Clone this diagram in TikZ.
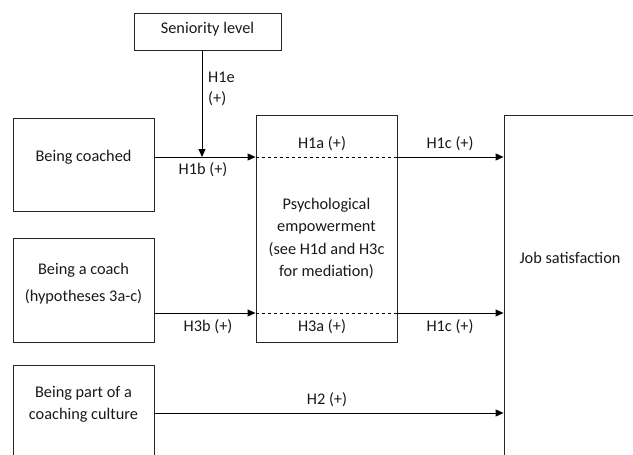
\documentclass[tikz,border=0pt]{standalone}
\usepackage{fontspec}
\setmainfont{Carlito}
\usetikzlibrary{arrows.meta}
\begin{document}
\begin{tikzpicture}[x=1pt,y=-1pt,
  box/.style={draw=black!85,line width=0.9pt,inner sep=0pt},
  txt/.style={font=\fontsize{16.3}{22.3}\selectfont,align=center,inner sep=0pt,text=black!90},
  lbl/.style={font=\fontsize{16.3}{21}\selectfont,inner sep=0pt,text=black!90},
  arr/.style={line width=0.9pt,-{Triangle[length=8pt,width=7pt]}},
  ln/.style={line width=0.9pt},
  dsh/.style={line width=0.9pt,dash pattern=on 3.5pt off 2.5pt}]
\useasboundingbox (0,0) rectangle (633,455);
\begin{scope}
\clip (0,0) rectangle (633,455);
% boxes
\node[box,minimum width=147pt,minimum height=37pt] (sen) at (207.5,31.5) {};
\node[box,minimum width=141pt,minimum height=93pt] (bc) at (83.5,164.5) {};
\node[box,minimum width=141pt,minimum height=104pt] (bac) at (83.5,290) {};
\node[box,minimum width=141pt,minimum height=110pt] (bpc) at (83.5,420) {};
\node[box,minimum width=141pt,minimum height=227pt] (pe) at (326.5,228.5) {};
\node[box,minimum width=160pt,minimum height=360pt] (js) at (584,295) {};
\end{scope}
% texts
\node[txt] (tsen) at (207.5,29.5) {Seniority level};
\node[txt] (tbc) at (83.5,157) {Being coached};
\node[txt,font=\fontsize{16.3}{26.7}\selectfont] (tbac) at (83.5,283.5) {Being a coach\\(hypotheses 3a-c)};
\node[txt] (tbpc) at (83.5,404.5) {Being part of a\\coaching culture};
\node[txt] (tpe) at (326.5,238.5) {Psychological\\empowerment\\(see H1d and H3c\\for mediation)};
\node[txt] (tjs) at (570,258) {Job satisfaction};
% coordinates
\coordinate (r1) at (0,157);
\coordinate (r2) at (0,313);
\coordinate (r3) at (0,413);
\coordinate (hv) at (202,157);
% connectors
\draw[arr] (sen.south -| hv) -- (hv);
\draw[arr] (bc.east |- r1) -- (pe.west |- r1);
\draw[dsh] (pe.west |- r1) -- (pe.east |- r1);
\draw[arr] (pe.east |- r1) -- (js.west |- r1);
\draw[arr] (bac.east |- r2) -- (pe.west |- r2);
\draw[dsh] (pe.west |- r2) -- (pe.east |- r2);
\draw[arr] (pe.east |- r2) -- (js.west |- r2);
\draw[arr] (bpc.east |- r3) -- (js.west |- r3);
% labels
\node[lbl,anchor=west,align=left] (lh1e) at (208,88.5) {H1e\\(+)};
\node[lbl] (lh1b) at (203,170) {H1b (+)};
\node[lbl] (lh1a) at (322,143.5) {H1a (+)};
\node[lbl] (lh1c) at (450,143.5) {H1c (+)};
\node[lbl] (lh3b) at (208,327) {H3b (+)};
\node[lbl] (lh3a) at (322,327) {H3a (+)};
\node[lbl] (lh1c2) at (450,327) {H1c (+)};
\node[lbl] (lh2) at (327,400) {H2 (+)};
\end{tikzpicture}
\end{document}
